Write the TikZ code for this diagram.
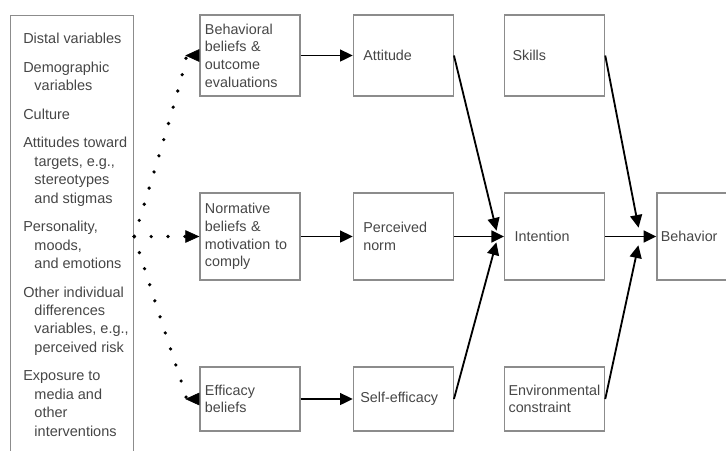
\documentclass[tikz,border=0pt]{standalone}
\usepackage{fontspec}
\setmainfont{Liberation Sans}
\usetikzlibrary{arrows.meta, positioning, calc}

\definecolor{boxline}{RGB}{140,140,140}
\definecolor{boxtext}{RGB}{70,70,70}

\tikzset{
    box/.style={draw=boxline, line width=0.9pt, text=boxtext, align=left,
        inner xsep=0.125cm, inner ysep=0pt, text width=2.25cm,
        minimum height=2.025cm,
        font=\fontsize{10.2}{12.6}\selectfont},
    panel/.style={draw=boxline, line width=0.9pt, inner sep=0pt,
        minimum width=3.075cm, minimum height=11.125cm},
    vartext/.style={text=boxtext, align=left, inner sep=0pt,
        font=\fontsize{10.3}{13.1}\selectfont},
    link/.style={-{Triangle[length=9pt, width=8.5pt]}, line width=1.3pt},
    dotlink/.style={line width=2.6pt, line cap=round, dash pattern=on 0pt off 12pt},
}

\begin{document}
\begin{tikzpicture}[x=0.025cm, y=-0.025cm, node distance=1.3cm and 1.3cm]
    \clip (0,0) rectangle (726,450);

    % distal variables
    \node [panel, anchor=north west] (Distal) at (10,15) {};
    \node [vartext, anchor=north west] (Vars) at ($(Distal.north west)+(13,18)$) {%
        Distal variables\\[7.2pt]
        Demographic\\
        \hspace*{0.28cm}variables\\[7.2pt]
        Culture\\[7.2pt]
        Attitudes toward\\
        \hspace*{0.28cm}targets, e.g.,\\
        \hspace*{0.28cm}stereotypes\\
        \hspace*{0.28cm}and stigmas\\[7.2pt]
        Personality,\\
        \hspace*{0.28cm}moods,\\
        \hspace*{0.28cm}and emotions\\[7.2pt]
        Other individual\\
        \hspace*{0.28cm}differences\\
        \hspace*{0.28cm}variables, e.g.,\\
        \hspace*{0.28cm}perceived risk\\[7.2pt]
        Exposure to\\
        \hspace*{0.28cm}media and\\
        \hspace*{0.28cm}other\\
        \hspace*{0.28cm}interventions};

    % beliefs
    \node [box] (BB) at (250,55.5) {Behavioral\\beliefs \&\\outcome\\evaluations};
    \node [box, minimum height=2.175cm] (NB) at (250,236.5) {Normative\\beliefs \&\\motivation to\\comply};
    \node [box, minimum height=1.6cm] (EB) at (250,399) {Efficacy\\beliefs};

    % determinants
    \node [box, right=of BB, inner xsep=0.25cm, text width=2cm] (Att) {Attitude};
    \node [box, right=of NB, inner xsep=0.25cm, text width=2cm, minimum height=2.175cm] (PN) {Perceived\\norm};
    \node [box, right=of EB, inner xsep=0.175cm, text width=2.15cm, minimum height=1.6cm] (SE) {Self-efficacy};

    \node [box, right=1.25cm of Att, inner xsep=0.2cm, text width=2.1cm] (Skills) {Skills};
    \node [box, right=1.25cm of PN, inner xsep=0.25cm, text width=2cm, minimum height=2.175cm] (Int) {Intention};
    \node [box, right=1.25cm of SE, inner xsep=0.1cm, text width=2.3cm, minimum height=1.6cm] (Env) {Environmental\\constraint};

    \node [box, right=1.275cm of Int, inner xsep=0.1cm, text width=1.775cm, minimum height=2.175cm] (Beh) {Behavior};

    % dotted fan
    \coordinate (Fan) at (Distal.east |- NB.west);
    \draw [dotlink, -{Triangle[reversed, length=10pt, width=9pt, line width=0.4pt]}]
        (Fan) .. controls (175,105) and (188,55.5) .. (BB.west);
    \draw [dotlink, -{Triangle[length=10pt, width=9pt, line width=0.4pt]}] (Fan) -- (NB.west);
    \draw [dotlink, -{Triangle[reversed, length=10pt, width=9pt, line width=0.4pt]}]
        (Fan) .. controls (175,365) and (188,399) .. (EB.west);

    \foreach \a/\b in {BB/Att, NB/PN, EB/SE, PN/Int, Int/Beh} {
        \draw [link] (\a) -- (\b);
    }
    \foreach \a in {Att, SE} {
        \draw [link, shorten >=0.15cm] (\a.east) -- ($(Int.west)+(-6,0)$);
    }
    \foreach \a in {Skills, Env} {
        \draw [link, shorten >=0.225cm] (\a.east) -- ($(Beh.west)+(-16,0)$);
    }
\end{tikzpicture}
\end{document}
